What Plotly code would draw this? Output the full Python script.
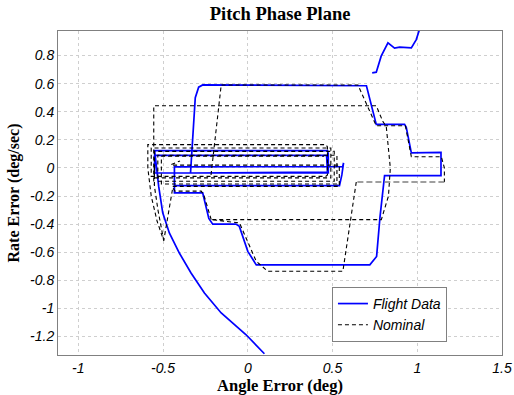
import plotly.graph_objects as go

# ---- Flight data (blue) ----
flight_top_x = [0.734, 0.758, 0.787, 0.827, 0.866, 0.896, 0.965, 0.994, 1.01, 1.02]
flight_top_y = [0.677, 0.682, 0.796, 0.891, 0.853, 0.860, 0.855, 0.914, 0.974, 1.0]

flight_x = [0.098, -0.01, -0.157, -0.256, -0.335, -0.404, -0.463, -0.502, -0.526, -0.535, -0.545, -0.55,
            0.47, 0.475, 0.475, -0.55, -0.55, 0.465, 0.47, -0.338, -0.31, -0.29, -0.266,
            0.68, 0.70, 0.758, 0.925, 0.935, 0.965, 1.14, 1.14, 0.807, 0.78, 0.76, 0.72,
            0.05, 0.0, -0.05, -0.07, -0.207, -0.23, -0.266, -0.433, -0.433,
            0.56, 0.565, 0.555, 0.541, -0.433]
flight_y = [-1.323, -1.188, -1.033, -0.891, -0.748, -0.606, -0.463, -0.32, -0.13, -0.04, 0.05, 0.123,
            0.123, 0.10, -0.036, -0.036, 0.09, 0.09, -0.03, -0.036, 0.5, 0.575, 0.591,
            0.59, 0.585, 0.31, 0.31, 0.29, 0.107, 0.11, -0.055, -0.055, -0.35, -0.63, -0.69,
            -0.69, -0.594, -0.416, -0.40, -0.40, -0.36, -0.178, -0.178, 0.007,
            0.01, 0.036, -0.05, -0.126, -0.126]

# ---- Nominal (black dashed) ----
nom_outer_x = [-0.217, -0.157, 0.65, 0.758, 0.93, 0.965, 1.142, 1.16, 1.16]
nom_outer_y = [-0.05, 0.591, 0.591, 0.30, 0.30, 0.08, 0.08, 0.0, -0.10]

nom_grey_x = [1.16, 0.64]
nom_grey_y = [-0.10, -0.10]

nom_low_x = [0.64, 0.561, 0.118, 0.05, -0.049, -0.216, 0.788, 0.83, 0.841, 0.83, 0.817, 0.797, 0.758,
             -0.555, -0.555]
nom_low_y = [-0.10, -0.736, -0.736, -0.665, -0.392, -0.368, -0.368, -0.2, 0.0, 0.15, 0.296, 0.33, 0.443,
             0.443, -0.12]

nom_step_x = [-0.216, -0.26, -0.275, -0.43, -0.443, -0.443, -0.496, -0.535, -0.57, -0.59, -0.59,
              0.46, 0.47, 0.47, 0.46, -0.57, -0.57, 0.49, 0.49, -0.551, -0.551, 0.51, 0.51,
              -0.531, -0.531, 0.526, 0.526, -0.51, -0.51, 0.45]
nom_step_y = [-0.368, -0.19, -0.165, -0.165, -0.14, -0.142, -0.518, -0.38, -0.2, 0.0, 0.166,
              0.166, 0.15, -0.05, -0.06, -0.06, 0.142, 0.142, -0.071, -0.071, 0.118, 0.118, -0.095,
              -0.095, 0.09, 0.09, -0.114, -0.114, 0.083, 0.083]

nom_inner_x = [-0.551, -0.551, -0.53, -0.496]
nom_inner_y = [0.0, -0.131, -0.3, -0.518]

nom_bot_x = [-0.443, 0.54, 0.54, -0.453, -0.453, -0.40]
nom_bot_y = [-0.131, -0.131, 0.02, 0.02, 0.024, 0.05]

fig = go.Figure()
blue = "rgb(0,0,255)"
fig.add_trace(go.Scatter(x=flight_x, y=flight_y, mode="lines", name="Flight Data",
                         line=dict(color=blue, width=1.7)))
fig.add_trace(go.Scatter(x=flight_top_x, y=flight_top_y, mode="lines", showlegend=False,
                         line=dict(color=blue, width=1.7)))
dash_line = dict(color="black", width=1.1, dash="4px,3px")
fig.add_trace(go.Scatter(x=nom_outer_x, y=nom_outer_y, mode="lines", name="Nominal", line=dash_line))
for xs, ys in [(nom_low_x, nom_low_y), (nom_step_x, nom_step_y),
               (nom_inner_x, nom_inner_y), (nom_bot_x, nom_bot_y)]:
    fig.add_trace(go.Scatter(x=xs, y=ys, mode="lines", showlegend=False, line=dash_line))
fig.add_trace(go.Scatter(x=nom_grey_x, y=nom_grey_y, mode="lines", showlegend=False,
                         line=dict(color="grey", width=1.5, dash="6px,3px")))

tickfont = dict(family="Liberation Sans, Arial", size=14, color="black", style="italic")
axis_common = dict(showgrid=True, gridcolor="#cfcfcf", griddash="dot", gridwidth=1,
                   showline=True, linecolor="#808080", linewidth=1, mirror=True,
                   zeroline=False, ticks="", tickfont=tickfont, automargin=False)

fig.update_layout(
    width=514, height=395,
    margin=dict(l=58, r=12, t=31, b=40, autoexpand=False),
    paper_bgcolor="white", plot_bgcolor="white",
    title=dict(text="<b>Pitch Phase Plane</b>", x=0.545, xanchor="center", y=0.982, yanchor="top",
               font=dict(family="Liberation Serif, Times New Roman", size=18.5, color="black")),
    xaxis=dict(range=[-1.12, 1.5], tickvals=[-1, -0.5, 0, 0.5, 1, 1.5],
               ticktext=["-1", "-0.5", "0", "0.5", "1", "1.5"],
               title=dict(text="<b>Angle Error (deg)</b>", standoff=4,
                          font=dict(family="Liberation Serif, Times New Roman", size=16.5, color="black")),
               **axis_common),
    yaxis=dict(range=[-1.332, 0.975],
               tickvals=[-1.2, -1, -0.8, -0.6, -0.4, -0.2, 0, 0.2, 0.4, 0.6, 0.8],
               ticktext=["-1.2", "-1", "-0.8", "-0.6", "-0.4", "-0.2", "0", "0.2", "0.4", "0.6", "0.8"],
               title=dict(text="<b>Rate Error (deg/sec)</b>", standoff=6,
                          font=dict(family="Liberation Serif, Times New Roman", size=16, color="black")),
               **axis_common),
    legend=dict(x=0.617, y=0.21, xanchor="left", yanchor="top",
                bgcolor="white", bordercolor="#808080", borderwidth=1,
                font=dict(family="Liberation Sans, Arial", size=14, color="black", style="italic"),
                tracegroupgap=0, itemwidth=30),
    showlegend=True,
)

fig.write_html("out.html")
